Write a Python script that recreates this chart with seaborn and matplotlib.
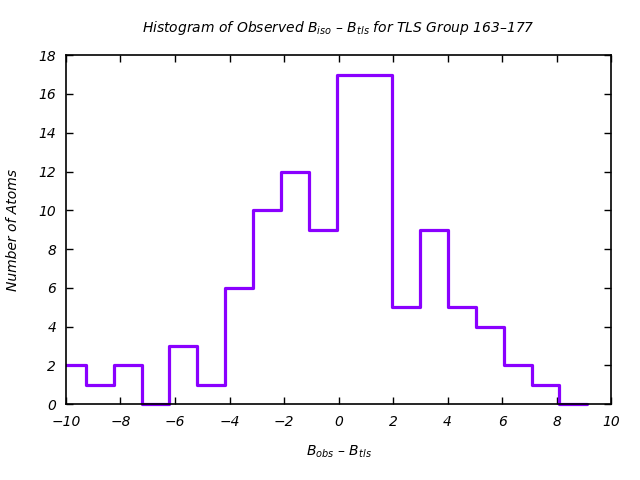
import matplotlib
matplotlib.use("Agg")
import matplotlib.pyplot as plt
import matplotlib.transforms as mtransforms
import seaborn as sns
import numpy as np
import pandas as pd

# Data
bin_start = -10.29
bin_width = 1.0217
counts = [2, 1, 2, 0, 3, 1, 6, 10, 12, 9, 17, 17, 5, 9, 5, 4, 2, 1, 0]
x_ticks = [-10, -8, -6, -4, -2, 0, 2, 4, 6, 8, 10]
y_ticks = [0, 2, 4, 6, 8, 10, 12, 14, 16, 18]
title = "Histogram of Observed B$_{iso}$ – B$_{tls}$ for TLS Group 163–177"
xlabel = "B$_{obs}$ – B$_{tls}$"
ylabel = "Number of Atoms"

sns.set_theme(style="white")
plt.rcParams["font.family"] = ["DejaVu Sans"]
plt.rcParams["font.style"] = "italic"
plt.rcParams["mathtext.fontset"] = "dejavusans"
plt.rcParams["mathtext.default"] = "it"
plt.rcParams["text.color"] = "black"
plt.rcParams["axes.labelcolor"] = "black"

edges = [bin_start + bin_width * i for i in range(len(counts) + 1)]
centers = [(edges[i] + edges[i + 1]) / 2 for i in range(len(counts))]
df = pd.DataFrame({"x": centers, "w": counts})

fig = plt.figure(figsize=(6.4, 4.8), dpi=100)
ax = fig.add_axes([0.103, 0.158, 0.852, 0.727])

sns.histplot(data=df, x="x", weights="w", bins=edges, element="step",
             fill=False, color="#8A00FF", linewidth=2.3, ax=ax)

ax.set_xlim(-10, 10)
ax.set_ylim(0, 18)

# clip to the axes but let the line at y=0 show below the border
fig.canvas.draw()
bb = ax.get_window_extent()
clipbox = mtransforms.Bbox.from_extents(bb.x0, bb.y0 - 3, bb.x1, bb.y1)
for art in list(ax.collections) + list(ax.lines) + list(ax.patches):
    art.set_clip_path(None)
    art.set_clip_box(clipbox)

ax.set_xticks(x_ticks)
ax.set_yticks(y_ticks)
ax.set_xticklabels([f"{t}".replace("-", "−") for t in x_ticks], fontsize=10, style="italic")
ax.set_yticklabels([str(t) for t in y_ticks], fontsize=10, style="italic")
ax.tick_params(direction="in", length=5, width=1, top=True, right=True,
               bottom=True, left=True, colors="black", labelcolor="black")
ax.tick_params(axis="x", pad=8)
ax.tick_params(axis="y", pad=7)
for s in ax.spines.values():
    s.set_color("black")
    s.set_linewidth(1.2)
    s.set_zorder(5)

ax.set_title(title, fontsize=10, style="italic", pad=17)
ax.set_xlabel(xlabel, fontsize=10, style="italic", labelpad=10)
ax.set_ylabel(ylabel, fontsize=10, style="italic", labelpad=13)

fig.savefig("out.png", dpi=100)
